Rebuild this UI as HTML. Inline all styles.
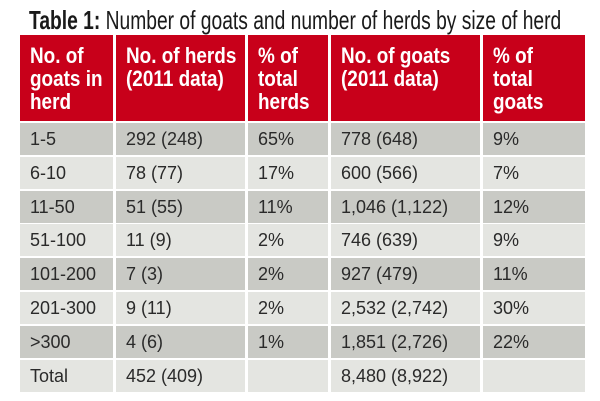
<!DOCTYPE html>
<html><head><meta charset="utf-8"><style>
body{margin:0;width:600px;height:401px;background:#fff;overflow:hidden;position:relative;font-family:"Liberation Sans",sans-serif}
.t{position:absolute;left:29px;top:5px;font-size:26px;color:#1a1a1a;white-space:nowrap;transform-origin:0 0;transform:scaleX(0.74)}
.c{position:absolute;box-sizing:border-box;padding-left:10px;color:#2a2a2a;font-size:18px;white-space:nowrap}
.h{background:#c8001a;color:#fff;font-weight:bold;font-size:22px;line-height:23px;padding-top:9px}
.h span{display:inline-block;transform-origin:0 0;transform:scaleX(0.86)}
.d{background:#c9cac5}.l{background:#e4e5e1}
</style></head><body>
<div class="t"><b>Table 1:</b> Number of goats and number of herds by size of herd</div>
<div id="g"></div>
<script>
var cols=[[20,113],[116,245],[248,328],[331,480],[483,585]];
var H=[["No. of<br>goats in<br>herd"],["No. of herds<br>(2011 data)"],["% of<br>total<br>herds"],["No. of goats<br>(2011 data)"],["% of<br>total<br>goats"]];
var R=[["1-5","292 (248)","65%","778 (648)","9%"],["6-10","78 (77)","17%","600 (566)","7%"],["11-50","51 (55)","11%","1,046 (1,122)","12%"],["51-100","11 (9)","2%","746 (639)","9%"],["101-200","7 (3)","2%","927 (479)","11%"],["201-300","9 (11)","2%","2,532 (2,742)","30%"],["&gt;300","4 (6)","1%","1,851 (2,726)","22%"],["Total","452 (409)","","8,480 (8,922)",""]];
var s="";
cols.forEach(function(c,i){s+='<div class="c h" style="left:'+c[0]+'px;top:35px;width:'+(c[1]-c[0])+'px;height:86px"><span>'+H[i]+'</span></div>';});
R.forEach(function(r,j){var y=Math.round(123+j*33.8);cols.forEach(function(c,i){s+='<div class="c '+(j%2?'l':'d')+'" style="left:'+c[0]+'px;top:'+y+'px;width:'+(c[1]-c[0])+'px;height:32px;line-height:32px">'+r[i]+'</div>';});});
document.getElementById("g").innerHTML=s;
</script>
</body></html>
